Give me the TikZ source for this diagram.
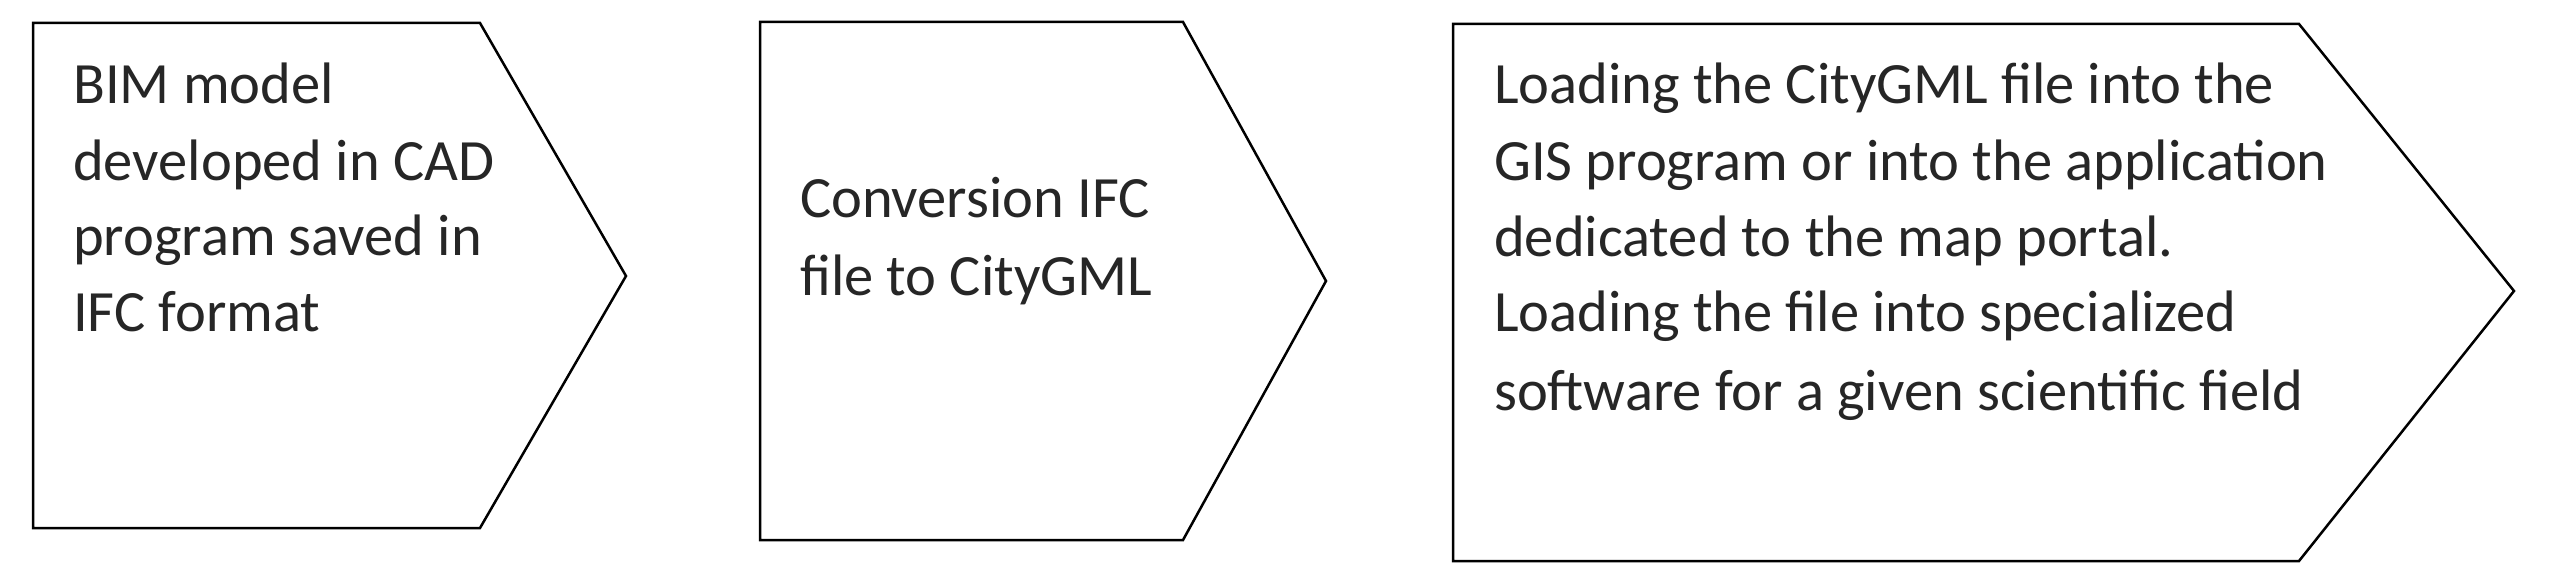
\documentclass[tikz,border=0pt]{standalone}
\usepackage{fontspec}
\setmainfont{Carlito}
\begin{document}
\begin{tikzpicture}[x=1pt,y=-1pt,
  shp/.style={draw=black,line width=2.5pt,line join=miter,fill=white},
  txt/.style={anchor=base west,inner sep=0pt,font=\fontsize{58.5}{70}\selectfont,text=black!85}]
\useasboundingbox (0,0) rectangle (2551,588);
\draw[shp] (33,23) -- (480,23) -- (626,276) -- (480,528) -- (33,528) -- cycle;
\draw[shp] (760,22) -- (1183,22) -- (1326,281) -- (1183,540) -- (760,540) -- cycle;
\draw[shp] (1453,24) -- (2299,24) -- (2514,291) -- (2299,561) -- (1453,561) -- cycle;
\node[txt] (a1) at (73,104) {BIM model};
\node[txt] (a2) at (73,181) {developed in CAD};
\node[txt] (a3) at (73,255) {program saved in};
\node[txt] (a4) at (73,331) {IFC format};
\node[txt] (b1) at (800,218) {Conversion IFC};
\node[txt] (b2) at (800,295) {file to CityGML};
\node[txt] (c1) at (1494,104) {Loading the CityGML file into the};
\node[txt] (c2) at (1494,181) {GIS program or into the application};
\node[txt] (c3) at (1494,256) {dedicated to the map portal.};
\node[txt] (c4) at (1494,331) {Loading the file into specialized};
\node[txt] (c5) at (1494,410) {software for a given scientific field};
\end{tikzpicture}
\end{document}
